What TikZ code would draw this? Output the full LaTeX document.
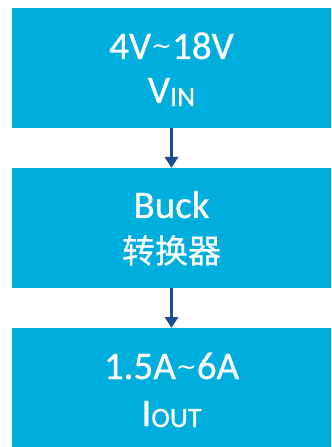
\documentclass[tikz,border=0pt]{standalone}
\usepackage{fontspec}
\setmainfont{Carlito}[FakeBold=0.6]
\newfontfamily\cjkfont{Noto Sans CJK SC}[FakeBold=0.6]
\newfontfamily\tildefont{DejaVu Sans}
\usetikzlibrary{arrows.meta}
\definecolor{boxblue}{HTML}{00AEDE}
\definecolor{arrowblue}{HTML}{1C4E8E}
\tikzset{
  blockbox/.style={fill=boxblue, draw=none, minimum width=319bp, minimum height=120bp, inner sep=0pt, outer sep=0pt},
  bigtxt/.style={text=white, anchor=base, inner sep=0pt, font=\fontsize{39bp}{42bp}\selectfont},
  cjktxt/.style={text=white, anchor=base, inner sep=0pt, font=\cjkfont\fontsize{33bp}{36bp}\selectfont},
  flowarrow/.style={draw=arrowblue, line width=2.7bp, -{Triangle[width=13bp,length=11bp]}},
}
\newcommand{\smallsub}[2][3bp]{\raisebox{-#1}{\fontsize{28bp}{30bp}\selectfont #2}}
\newcommand{\midtilde}{\raisebox{4bp}{\tildefont\fontsize{25bp}{27bp}\selectfont\char"007E}}
\begin{document}
\begin{tikzpicture}[x=1bp,y=-1bp]
\useasboundingbox (0,0) rectangle (331,447);
\node[blockbox] (b1) at (171.5,68) {};
\node[blockbox] (b2) at (171.5,228) {};
\node[blockbox, minimum height=119bp] (b3) at (171.5,387.5) {};
\node[bigtxt] (t1a) at (171.5,59) {4V\midtilde 18V};
\node[bigtxt] (t1b) at (171.5,103) {V\smallsub{IN}};
\node[bigtxt] (t2a) at (171.5,218) {Buck};
\node[cjktxt] (t2b) at (171.5,263) {转换器};
\node[bigtxt] (t3a) at (171.5,379) {1.5A\midtilde 6A};
\node[bigtxt] (t3b) at (171.5,426) {I\smallsub[1bp]{OUT}};
\draw[flowarrow] (b1.south) -- (b2.north);
\draw[flowarrow] (b2.south) -- (b3.north);
\end{tikzpicture}
\end{document}
